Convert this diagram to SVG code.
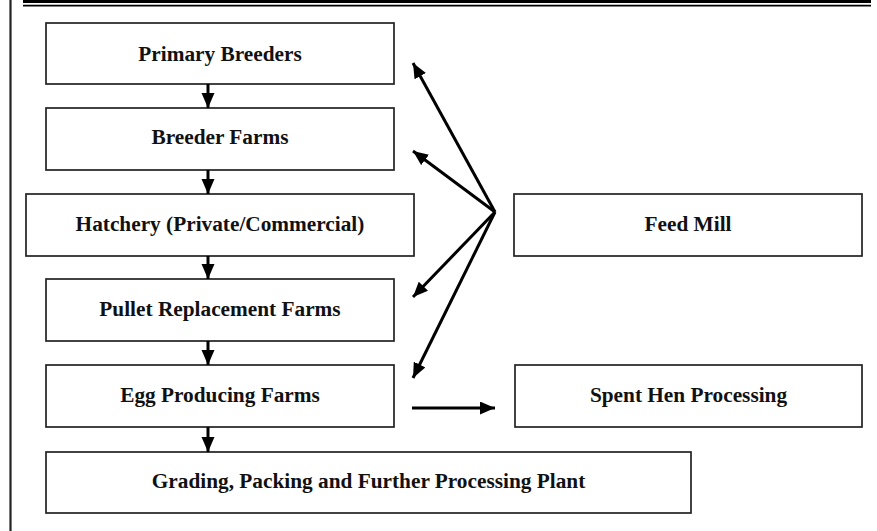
<svg xmlns="http://www.w3.org/2000/svg" width="877" height="531" viewBox="0 0 877 531">
  <style>
    .box { fill: #ffffff; stroke: #222222; stroke-width: 1.7; }
    .lbl { font-family: "Liberation Serif", "Times New Roman", serif; font-weight: bold; font-size: 21.3px; fill: #111111; text-anchor: middle; }
    .conn { stroke: #000000; stroke-width: 3; fill: none; marker-end: url(#head); }
  </style>
  <defs>
    <marker id="head" markerUnits="userSpaceOnUse" markerWidth="16" markerHeight="14" refX="15" refY="6.5" orient="auto">
      <path d="M0,0 L15,6.5 L0,13 z" fill="#000000"/>
    </marker>
  </defs>
  <rect x="0" y="0" width="877" height="531" fill="#ffffff"/>
  <g id="frame">
    <line x1="10.5" y1="0" x2="10.5" y2="531" stroke="#222222" stroke-width="2.2"/>
    <line x1="23" y1="1.6" x2="871" y2="1.6" stroke="#000000" stroke-width="3"/>
    <line x1="23" y1="5.6" x2="871" y2="5.6" stroke="#000000" stroke-width="1.8"/>
  </g>
  <g id="node-primary-breeders">
    <rect class="box" x="46" y="23" width="348" height="61"/>
    <text class="lbl" x="220" y="61">Primary Breeders</text>
  </g>
  <g id="node-breeder-farms">
    <rect class="box" x="46" y="108" width="348" height="62"/>
    <text class="lbl" x="220" y="144">Breeder Farms</text>
  </g>
  <g id="node-hatchery">
    <rect class="box" x="26" y="194" width="388" height="62"/>
    <text class="lbl" x="220" y="231">Hatchery (Private/Commercial)</text>
  </g>
  <g id="node-pullet">
    <rect class="box" x="46" y="279" width="348" height="62"/>
    <text class="lbl" x="220" y="316">Pullet Replacement Farms</text>
  </g>
  <g id="node-egg">
    <rect class="box" x="46" y="365" width="348" height="62"/>
    <text class="lbl" x="220" y="402">Egg Producing Farms</text>
  </g>
  <g id="node-grading">
    <rect class="box" x="46" y="452" width="645" height="61"/>
    <text class="lbl" x="368.5" y="488">Grading, Packing and Further Processing Plant</text>
  </g>
  <g id="node-feed-mill">
    <rect class="box" x="514" y="194" width="348" height="62"/>
    <text class="lbl" x="688" y="231">Feed Mill</text>
  </g>
  <g id="node-spent-hen">
    <rect class="box" x="515" y="365" width="347" height="62"/>
    <text class="lbl" x="688.5" y="402">Spent Hen Processing</text>
  </g>
  <g id="connectors">
    <line class="conn" x1="208" y1="84" x2="208" y2="108"/>
    <line class="conn" x1="208" y1="170" x2="208" y2="194"/>
    <line class="conn" x1="208" y1="256" x2="208" y2="279"/>
    <line class="conn" x1="208" y1="341" x2="208" y2="365"/>
    <line class="conn" x1="208" y1="427" x2="208" y2="452"/>
    <line class="conn" x1="412" y1="408" x2="495" y2="408"/>
    <line class="conn" x1="495" y1="212" x2="413" y2="63"/>
    <line class="conn" x1="495" y1="212" x2="413" y2="151"/>
    <line class="conn" x1="495" y1="212" x2="413" y2="297"/>
    <line class="conn" x1="495" y1="212" x2="413" y2="378"/>
  </g>
</svg>
